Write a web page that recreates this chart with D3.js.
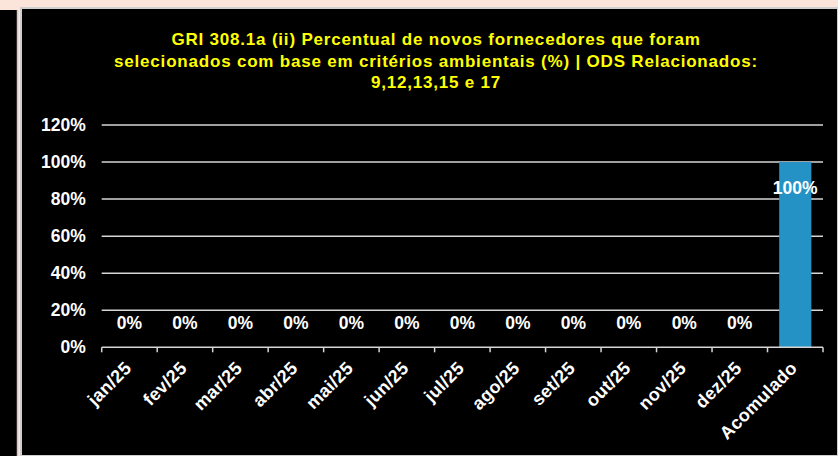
<!DOCTYPE html>
<html>
<head>
<meta charset="utf-8">
<script src="https://cdn.jsdelivr.net/npm/d3@7"></script>
<style>
  html, body { margin: 0; padding: 0; background: #fbe4da; }
  svg { display: block; font-family: "Liberation Sans", Arial, sans-serif; }
</style>
</head>
<body>
<svg width="838" height="456"></svg>
<script>
// chart data
const categories = ["jan/25", "fev/25", "mar/25", "abr/25", "mai/25", "jun/25", "jul/25", "ago/25", "set/25", "out/25", "nov/25", "dez/25", "Acomulado"];
const values = [0, 0, 0, 0, 0, 0, 0, 0, 0, 0, 0, 0, 1];
const yTicks = [0, 0.2, 0.4, 0.6, 0.8, 1.0, 1.2];
const titleLines = [
  "GRI 308.1a (ii) Percentual de novos fornecedores que foram",
  "selecionados com base em critérios ambientais (%) | ODS Relacionados:",
  "9,12,13,15 e 17"
];

const svg = d3.select("svg");

// frames
svg.append("rect").attr("x", 0).attr("y", 10).attr("width", 17).attr("height", 446).attr("fill", "#000");
svg.append("line").attr("x1", 17.5).attr("x2", 17.5).attr("y1", 10).attr("y2", 456).attr("stroke", "#c8c8c8").attr("stroke-width", 1.5);
svg.append("rect").attr("x", 21).attr("y", 8).attr("width", 817).attr("height", 448)
  .attr("fill", "#000").attr("stroke", "#cfcfcf").attr("stroke-width", 2);

// title
svg.append("text").attr("text-anchor", "middle").attr("fill", "#ffff00")
  .attr("font-weight", "bold").attr("font-size", 17).attr("letter-spacing", 0.8)
  .selectAll("tspan").data(titleLines).enter().append("tspan")
  .attr("x", 436).attr("y", (d, i) => 45 + i * 21.6).text(d => d);

const pLeft = 101.7, pRight = 823, pTop = 125, pBottom = 347.3;

const x = d3.scaleBand().domain(categories).range([pLeft, pRight]).paddingInner(0).paddingOuter(0);
const y = d3.scaleLinear().domain([0, 1.2]).range([pBottom, pTop]);

// grid lines
svg.append("g").selectAll("line").data(yTicks.filter(d => d > 0)).enter().append("line")
  .attr("x1", pLeft).attr("x2", pRight).attr("y1", d => y(d)).attr("y2", d => y(d))
  .attr("stroke", "#d6d6d6").attr("stroke-width", 1.5);

// y axis labels
const yAxis = d3.axisLeft(y).tickValues(yTicks).tickFormat(d3.format(".0%")).tickSize(0).tickPadding(16);
const yG = svg.append("g").attr("transform", `translate(${pLeft},0)`).call(yAxis);
yG.select(".domain").remove();
yG.selectAll("text").attr("fill", "#fff").attr("font-size", 17.5).attr("font-weight", "bold")
  .attr("font-family", "Liberation Sans, Arial, sans-serif");

// bars
svg.append("g").selectAll("rect").data(values).enter().append("rect")
  .attr("x", (d, i) => x(categories[i]) + x.bandwidth() * 0.21)
  .attr("width", x.bandwidth() * 0.58)
  .attr("y", d => y(d))
  .attr("height", d => pBottom - y(d))
  .attr("fill", "#2592c5");

// x axis line and ticks between categories
svg.append("line").attr("x1", pLeft).attr("x2", pRight).attr("y1", pBottom).attr("y2", pBottom)
  .attr("stroke", "#d6d6d6").attr("stroke-width", 1.5);
const tickPos = categories.map(c => x(c)).concat([pRight]);
svg.append("g").selectAll("line").data(tickPos).enter().append("line")
  .attr("x1", d => d).attr("x2", d => d).attr("y1", pBottom).attr("y2", pBottom + 5)
  .attr("stroke", "#d6d6d6").attr("stroke-width", 1.5);

// x labels
svg.append("g").selectAll("text").data(categories).enter().append("text")
  .attr("transform", d => `translate(${x(d) + x.bandwidth() / 2 + 3},${pBottom + 22}) rotate(-45)`)
  .attr("text-anchor", "end").attr("fill", "#fff").attr("font-weight", "bold").attr("font-size", 18)
  .attr("letter-spacing", 0.3)
  .text(d => d);

// value labels
svg.append("g").selectAll("text").data(values).enter().append("text")
  .attr("x", (d, i) => x(categories[i]) + x.bandwidth() / 2)
  .attr("y", d => d > 0 ? y(d) + 32 : y(d) - 18)
  .attr("text-anchor", "middle").attr("fill", "#fff").attr("font-weight", "bold").attr("font-size", 17.5)
  .text(d => d3.format(".0%")(d));
</script>
</body>
</html>
